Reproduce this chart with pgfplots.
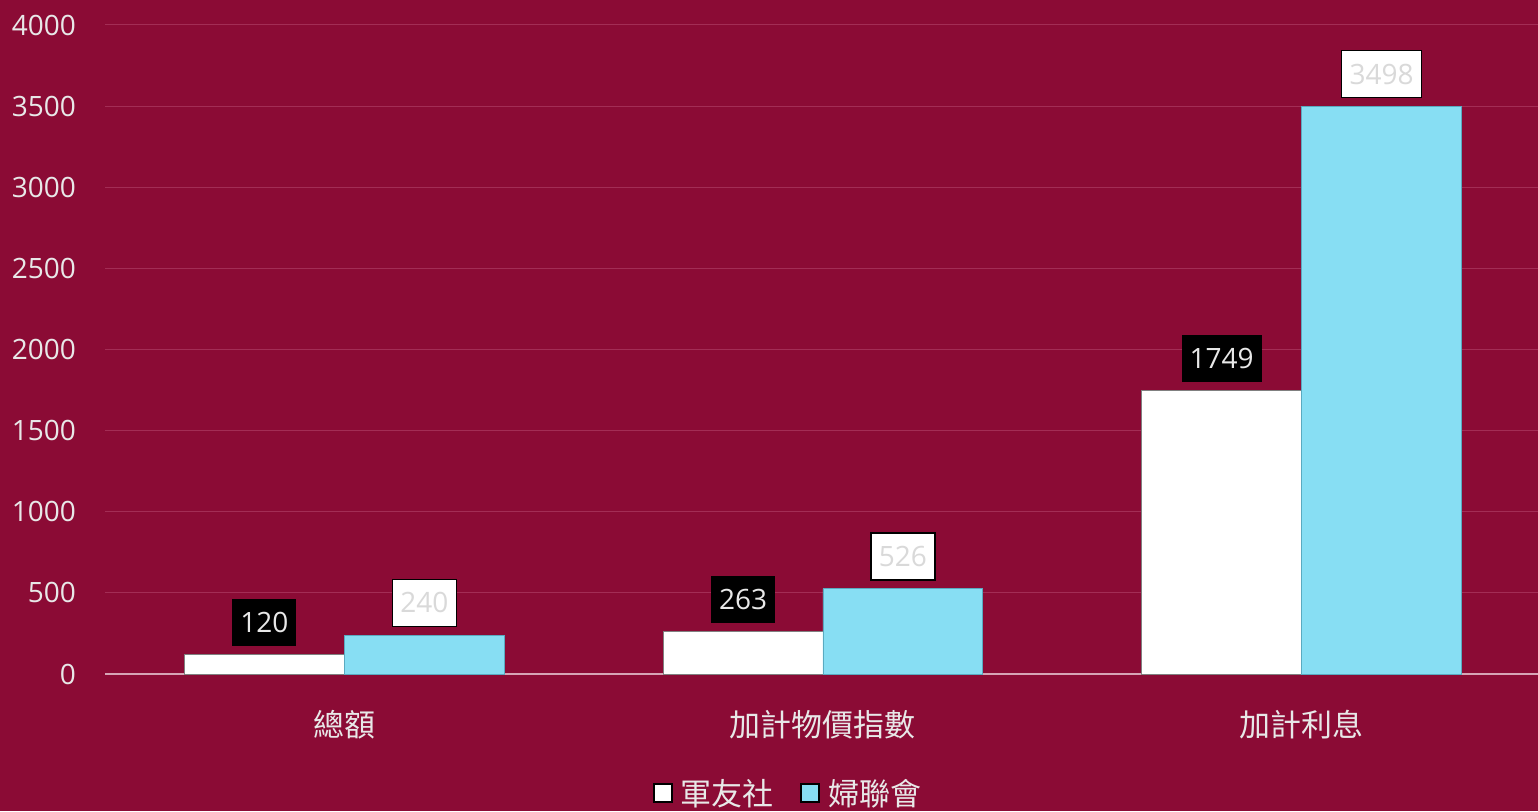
\documentclass[border=0pt]{standalone}
\usepackage{pgfplots}
\pgfplotsset{compat=1.18}
\usepackage{fontspec}
\setmainfont{Open Sans}
\newfontfamily\cjk{Noto Sans CJK TC}

\definecolor{bgred}{RGB}{139,11,53}
\definecolor{gridc}{RGB}{163,45,85}
\definecolor{zeroc}{RGB}{215,165,182}
\definecolor{txtc}{RGB}{232,232,232}
\definecolor{lblgrey}{RGB}{217,217,217}
\definecolor{barblue}{RGB}{135,222,243}
\definecolor{blueedge}{RGB}{90,170,192}

\begin{document}
\begin{tikzpicture}[x=1pt,y=1pt]
\useasboundingbox (0,0) rectangle (1538,811);
\fill[bgred] (0,0) rectangle (1538,811);
\begin{axis}[
    at={(105pt,137pt)}, anchor=south west,
    scale only axis,
    width=1436pt, height=649pt,
    xmin=-0.5, xmax=2.5,
    ymin=0, ymax=4000,
    ybar, bar width=0.334,
    xtick={0,1,2},
    xticklabels={總額,加計物價指數,加計利息},
    ytick={0,500,...,4000},
    major tick length=0pt,
    axis line style={draw=none},
    ymajorgrids=true,
    grid style={color=gridc, line width=1pt},
    extra y ticks={0},
    extra y tick labels={},
    extra y tick style={grid style={color=zeroc, line width=2pt}},
    /pgf/number format/assume math mode=true,
    /pgf/number format/1000 sep={},
    yticklabel style={font=\fontsize{28}{30}\selectfont, text=txtc, anchor=east, inner sep=0pt, xshift=-29pt},
    xticklabel style={font=\cjk\fontsize{31}{34}\selectfont, text=txtc, anchor=base, inner sep=0pt, yshift=-62pt},
    nodes near coords,
    nodes near coords style={font=\fontsize{28}{30}\selectfont, anchor=south, yshift=8pt,
        inner xsep=8pt, inner ysep=0pt, minimum height=47pt, text depth=0pt},
    legend columns=2,
    legend style={at={(0.4756,-0.1834)}, anchor=center, draw=none, fill=none,
        font=\cjk\fontsize{31}{34}\selectfont, text=txtc,
        /tikz/every even column/.append style={column sep=24pt}},
    legend image code/.code={\draw[#1, draw=black, line width=2pt] (0pt,-9pt) rectangle (18pt,9pt);
        \path (25pt,0pt);},
]
\addplot[fill=white, draw=gray, line width=0.8pt, bar shift=-0.167,
    every node near coord/.append style={fill=black, text=txtc}]
    coordinates {(0,120) (1,263) (2,1749)};
\addplot[fill=barblue, draw=blueedge, line width=0.8pt, bar shift=0.167,
    every node near coord/.append style={fill=white, draw=black, line width=1.5pt, text=lblgrey}]
    coordinates {(0,240) (1,526) (2,3498)};
\legend{軍友社,婦聯會}
\end{axis}
\end{tikzpicture}
\end{document}
